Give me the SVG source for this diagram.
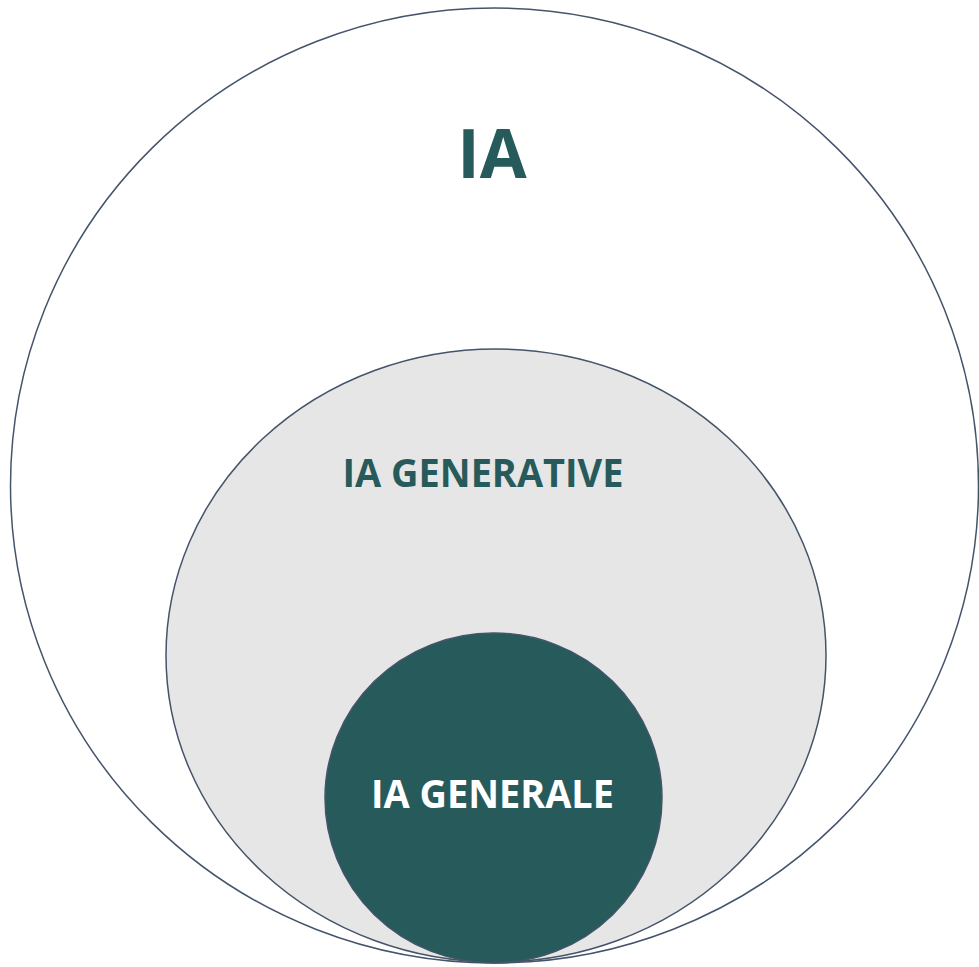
<svg xmlns="http://www.w3.org/2000/svg" width="979" height="967" viewBox="0 0 979 967">
<style>
.c{stroke:#44546A;stroke-width:1.5}
.t{font-family:"Open Sans","Liberation Sans",sans-serif;font-weight:bold;text-anchor:middle}
</style>
<rect width="979" height="967" fill="#fff"/>
<g id="ia">
<ellipse class="c" cx="494.5" cy="485.5" rx="484" ry="477.5" fill="#fff"/>
<text class="t" x="492" y="178" font-size="68" fill="#275A5B">IA</text>
</g>
<g id="ia-generative">
<ellipse class="c" cx="496" cy="655.5" rx="330" ry="306.5" fill="#E6E6E6"/>
<text class="t" x="483" y="487" font-size="39" fill="#275A5B" textLength="281" lengthAdjust="spacingAndGlyphs">IA GENERATIVE</text>
</g>
<g id="ia-generale">
<ellipse class="c" cx="493.5" cy="798" rx="168.5" ry="165" fill="#275A5B"/>
<text class="t" x="492.5" y="808" font-size="39" fill="#fff" textLength="243" lengthAdjust="spacingAndGlyphs">IA GENERALE</text>
</g>
</svg>
